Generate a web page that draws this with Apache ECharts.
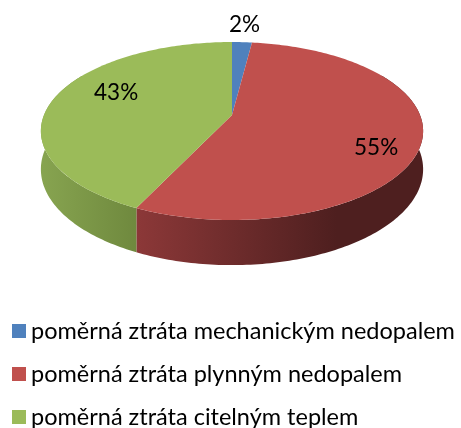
<!DOCTYPE html>
<html>
<head>
<meta charset="utf-8">
<script src="https://cdn.jsdelivr.net/npm/echarts@6/dist/echarts.min.js"></script>
<style>
  html, body { margin: 0; padding: 0; background: #ffffff; }
  #chart { width: 461px; height: 428px; }
</style>
</head>
<body>
<div id="chart"></div>
<script>
// Loss breakdown (percent shares)
const categories = [
  'poměrná ztráta mechanickým nedopalem',
  'poměrná ztráta plynným nedopalem',
  'poměrná ztráta citelným teplem'
];
const shares = [2, 55, 43];

const topColors = ['#4F81BD', '#C0504D', '#9BBB59'];
const sideColors = [
  ['#3c6391', '#2a4566'],
  ['#8c3838', '#4e1f1f'],
  ['#87a450', '#6f893e']
];

// Tilted disc drawn with a simple perspective: the back rim is compressed,
// the front rim enlarged.
const CX = 232, CY = 115;     // projected centre of the top face
const RX = 188, RY = 86.1;    // radii of the top face
const PERSP = 0.18;           // perspective strength
const DEPTH = 37;             // thickness of the disc

function project(phiDeg, rho, drop) {
  const p = phiDeg * Math.PI / 180;
  const X = rho * Math.sin(p);
  const Z = -rho * Math.cos(p);           // +1 = front, -1 = back
  const s = 1 / (1 - PERSP * Z);
  return [CX + RX * X * s, CY + RY * Z * s + (drop || 0) * s];
}

const total = shares.reduce((a, b) => a + b, 0);
const cum = [0];
shares.forEach((v, i) => cum.push(cum[i] + v));

// label placement per slice: [angle shift in degrees, radius factor]
const labelPlace = [[0, 1.3], [10, 0.8], [10, 0.7]];

function sliceRenderer(idx) {
  return function (params, api) {
    const value = api.value(0);
    const a0 = cum[idx] / total * 360;
    const a1 = a0 + value / total * 360;
    const children = [];

    // side wall (only the front half can be seen)
    const w0 = Math.max(a0, 60), w1 = Math.min(a1, 300);
    if (w1 > w0) {
      const topEdge = [], bottomEdge = [];
      const n = Math.max(2, Math.ceil(w1 - w0));
      for (let k = 0; k <= n; k++) {
        const a = w0 + (w1 - w0) * k / n;
        topEdge.push(project(a, 1, 0));
        bottomEdge.push(project(a, 1, DEPTH));
      }
      const xs = topEdge.map(p => p[0]);
      const gx0 = Math.min(...xs), gx1 = Math.max(...xs);
      const gEnd = idx === 1 ? gx0 + 200 : gx1;
      const grad = new echarts.graphic.LinearGradient(gx0, 0, gEnd, 0, [
        { offset: 0, color: sideColors[idx][0] },
        { offset: 1, color: sideColors[idx][1] }
      ], true);
      children.push({
        type: 'polygon',
        shape: { points: topEdge.concat(bottomEdge.reverse()) },
        style: { fill: grad }
      });
    }

    // top face
    const pts = [project(0, 0, 0)];
    const steps = Math.max(2, Math.ceil(a1 - a0));
    for (let k = 0; k <= steps; k++) {
      pts.push(project(a0 + (a1 - a0) * k / steps, 1, 0));
    }
    children.push({
      type: 'polygon',
      shape: { points: pts },
      style: { fill: topColors[idx] }
    });

    // value label
    const mid = (a0 + a1) / 2 + labelPlace[idx][0];
    const lp = project(mid, labelPlace[idx][1], 0);
    children.push({
      type: 'text',
      x: lp[0], y: lp[1],
      style: {
        text: Math.round(value / total * 100) + '%',
        fill: '#000000',
        font: '22.5px Lato',
        align: 'center',
        verticalAlign: 'middle'
      }
    });

    return { type: 'group', children: children };
  };
}

const chart = echarts.init(document.getElementById('chart'), null, { renderer: 'canvas' });
chart.setOption({
  animation: false,
  backgroundColor: '#ffffff',
  legend: {
    orient: 'vertical',
    left: 7,
    top: 314,
    height: 130,
    icon: 'rect',
    itemWidth: 14,
    itemHeight: 14,
    itemGap: 19,
    selectedMode: false,
    textStyle: { fontFamily: 'Lato', fontSize: 23.5, color: '#000000', lineHeight: 24 },
    data: categories
  },
  series: categories.map((name, i) => ({
    type: 'custom',
    name: name,
    coordinateSystem: 'none',
    itemStyle: { color: topColors[i] },
    data: [shares[i]],
    renderItem: sliceRenderer(i)
  }))
});
</script>
</body>
</html>
